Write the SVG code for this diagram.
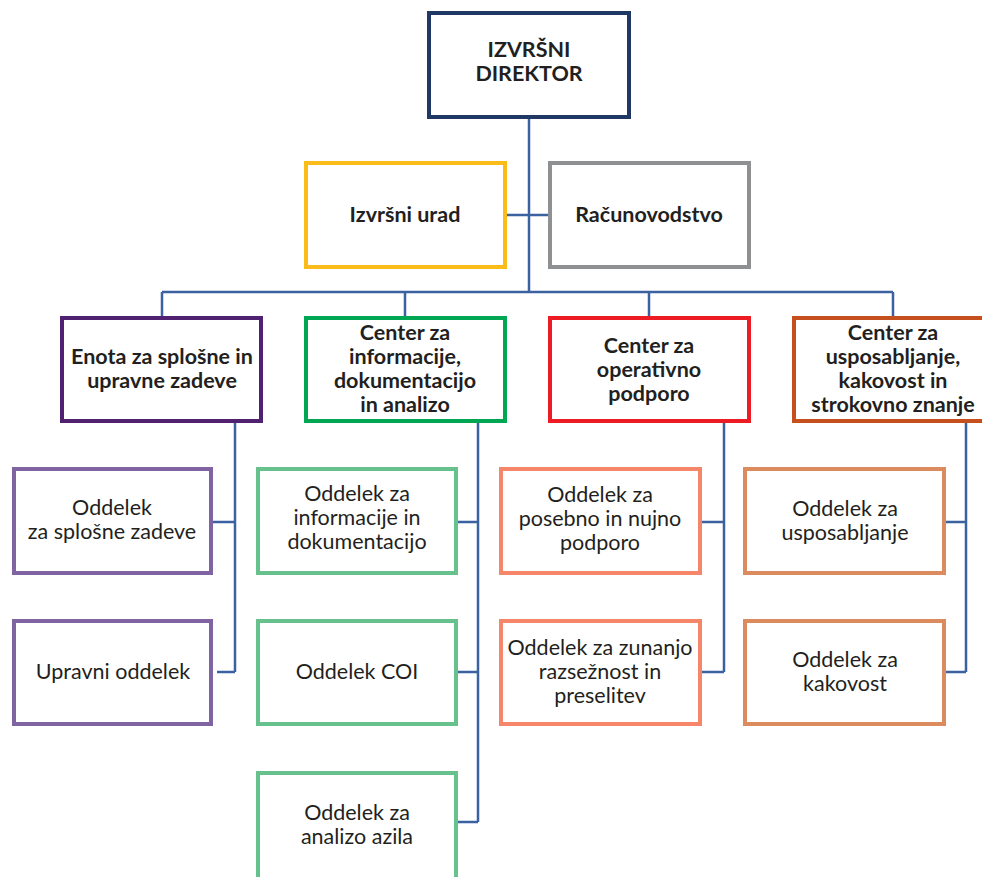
<svg xmlns="http://www.w3.org/2000/svg" width="982" height="877" viewBox="0 0 982 877">
<style>
.box{fill:#fff;stroke-width:4}
.t{font-family:Lato,"Open Sans","Liberation Sans",sans-serif;font-size:21.5px;fill:#231f20;text-anchor:middle}
.b{font-weight:bold}
.c{fill:none;stroke:#3a62a0;stroke-width:2.5}
</style>
<rect width="982" height="877" fill="#fff"/>
<g id="connectors">
<path class="c" d="M529 119V292M507 215H548M162 292H893M162 292V316M405 292V316M649 292V316M893 292V316"/>
<path class="c" d="M235 423V672M213 522H235M217 672H235"/>
<path class="c" d="M478 423V822M458 522H478M458 672H478M458 822H478"/>
<path class="c" d="M724 423V672M702 522H724M702 672H724"/>
<path class="c" d="M966 423V672M946 522H966M946 672H966"/>
</g>
<g id="director"><rect class="box" x="429" y="13" width="200" height="104" stroke="#1f3864"/>
<text class="t b" x="529" y="57">IZVRŠNI</text><text class="t b" x="529" y="81">DIREKTOR</text></g>
<g id="urad"><rect class="box" x="306" y="163" width="199" height="104" stroke="#fbbc1a"/>
<text class="t b" x="405" y="222">Izvršni urad</text></g>
<g id="racunovodstvo"><rect class="box" x="550" y="163" width="199" height="104" stroke="#8f9091"/>
<text class="t b" x="649" y="222">Računovodstvo</text></g>
<g id="enota"><rect class="box" x="62" y="318" width="199" height="103" stroke="#4f2170"/>
<text class="t b" x="162" y="364">Enota za splošne in</text><text class="t b" x="162" y="388">upravne zadeve</text></g>
<g id="center-info"><rect class="box" x="306" y="318" width="199" height="103" stroke="#00a651"/>
<text class="t b" x="405" y="340">Center za</text><text class="t b" x="405" y="364">informacije,</text><text class="t b" x="405" y="388">dokumentacijo</text><text class="t b" x="405" y="412">in analizo</text></g>
<g id="center-oper"><rect class="box" x="550" y="318" width="199" height="103" stroke="#ed1c24"/>
<text class="t b" x="649" y="353">Center za</text><text class="t b" x="649" y="377">operativno</text><text class="t b" x="649" y="401">podporo</text></g>
<g id="center-uspo"><rect class="box" x="794" y="318" width="199" height="103" stroke="#c5501e"/>
<text class="t b" x="893" y="340">Center za</text><text class="t b" x="893" y="364">usposabljanje,</text><text class="t b" x="893" y="388">kakovost in</text><text class="t b" x="893" y="412">strokovno znanje</text></g>
<g id="odd-splosne"><rect class="box" x="14" y="469" width="197" height="104" stroke="#8064a2"/>
<text class="t" x="112" y="515">Oddelek</text><text class="t" x="112" y="539">za splošne zadeve</text></g>
<g id="odd-upravni"><rect class="box" x="14" y="621" width="197" height="103" stroke="#8064a2"/>
<text class="t" x="113" y="679">Upravni oddelek</text></g>
<g id="odd-info"><rect class="box" x="258" y="469" width="198" height="104" stroke="#66c18c"/>
<text class="t" x="357" y="501">Oddelek za</text><text class="t" x="357" y="525">informacije in</text><text class="t" x="357" y="549">dokumentacijo</text></g>
<g id="odd-coi"><rect class="box" x="258" y="621" width="198" height="103" stroke="#66c18c"/>
<text class="t" x="357" y="679">Oddelek COI</text></g>
<g id="odd-azil"><rect class="box" x="258" y="773" width="198" height="110" stroke="#66c18c"/>
<text class="t" x="357" y="820">Oddelek za</text><text class="t" x="357" y="844">analizo azila</text></g>
<g id="odd-posebno"><rect class="box" x="501" y="469" width="199" height="104" stroke="#f5866a"/>
<text class="t" x="600" y="502">Oddelek za</text><text class="t" x="600" y="526">posebno in nujno</text><text class="t" x="600" y="550">podporo</text></g>
<g id="odd-zunanjo"><rect class="box" x="501" y="621" width="199" height="103" stroke="#f5866a"/>
<text class="t" x="600" y="655">Oddelek za zunanjo</text><text class="t" x="600" y="679">razsežnost in</text><text class="t" x="600" y="703">preselitev</text></g>
<g id="odd-uspo"><rect class="box" x="745" y="469" width="199" height="104" stroke="#dc8b5f"/>
<text class="t" x="845" y="516">Oddelek za</text><text class="t" x="845" y="540">usposabljanje</text></g>
<g id="odd-kakovost"><rect class="box" x="745" y="621" width="199" height="103" stroke="#dc8b5f"/>
<text class="t" x="845" y="667">Oddelek za</text><text class="t" x="845" y="691">kakovost</text></g>
</svg>
